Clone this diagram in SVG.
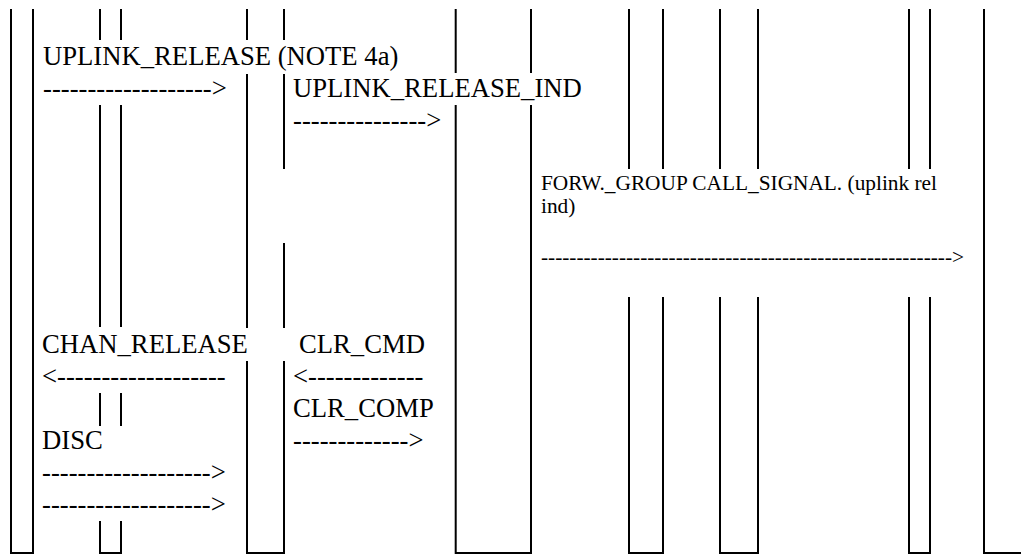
<svg xmlns="http://www.w3.org/2000/svg" width="1021" height="554" viewBox="0 0 1021 554">
<style>
.ln{fill:none;stroke:#000;stroke-width:2}
.t{font-size:26.67px;fill:#000}
.s{font-size:21.33px;fill:#000}
</style>
<rect width="1021" height="554" fill="#fff"/>
<g id="columns">
<g id="col1"><path class="ln" d="M11 9V553H33V9"/></g>
<g id="col2"><path class="ln" d="M100 9V40M100 105V327M100 393V426M100 521V553H121V521M121 426V393M121 327V105M121 40V9"/></g>
<g id="col3"><path class="ln" d="M247 9V40M247 74V328M247 361V553H284V361M284 328V243M284 169V74M284 40V9"/></g>
<g id="col4"><path class="ln" d="M455.7 9V73M455.7 105V553H531V105M531 73V9"/></g>
<g id="col5"><path class="ln" d="M629 9V169M629 297V553H663V297M663 169V9"/></g>
<g id="col6"><path class="ln" d="M720 9V169M720 297V553H758V297M758 169V9"/></g>
<g id="col7"><path class="ln" d="M909 9V169M909 297V553H930V297M930 169V9"/></g>
<g id="col8"><path class="ln" d="M984 9V553H1021"/></g>
</g>
<g id="connectors" font-family="Liberation Serif, DejaVu Serif, serif">
<g id="msg-uplink-release">
<text class="t" x="43" y="65">UPLINK_RELEASE (NOTE 4a)</text>
<text class="t" x="43" y="97">-------------------&gt;</text>
</g>
<g id="msg-uplink-release-ind">
<text class="t" x="293" y="97">UPLINK_RELEASE_IND</text>
<text class="t" x="293" y="129">---------------&gt;</text>
</g>
<g id="msg-forw">
<text class="s" x="541" y="190">FORW._GROUP CALL_SIGNAL. (uplink rel</text>
<text class="s" x="541" y="213">ind)</text>
<text class="s" x="541" y="264" textLength="423" lengthAdjust="spacing">----------------------------------------------------------&gt;</text>
</g>
<g id="msg-chan-release">
<text class="t" x="42" y="353">CHAN_RELEASE</text>
<text class="t" x="42" y="385">&lt;-------------------</text>
</g>
<g id="msg-clr-cmd">
<text class="t" x="299" y="353">CLR_CMD</text>
<text class="t" x="293" y="385">&lt;-------------</text>
</g>
<g id="msg-clr-comp">
<text class="t" x="293" y="417">CLR_COMP</text>
<text class="t" x="293" y="449">-------------&gt;</text>
</g>
<g id="msg-disc">
<text class="t" x="42" y="449">DISC</text>
<text class="t" x="42" y="481">-------------------&gt;</text>
<text class="t" x="42" y="513">-------------------&gt;</text>
</g>
</g>
</svg>
